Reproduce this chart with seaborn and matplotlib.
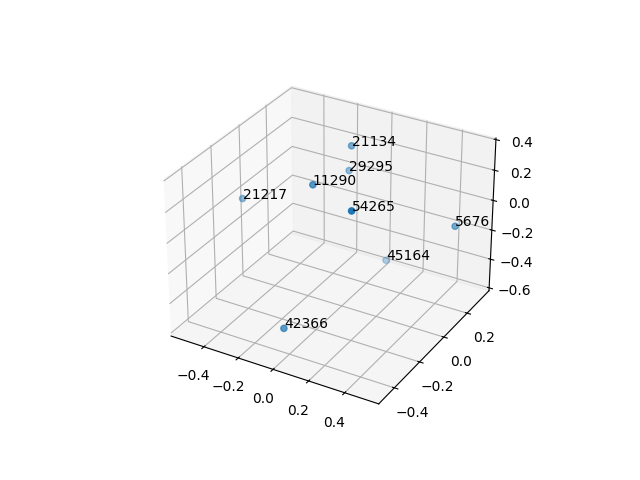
import matplotlib
matplotlib.use('Agg')
import matplotlib.pyplot as plt
import pandas as pd
import seaborn as sns

labels = ['21134', '29295', '11290', '21217', '54265', '5676', '45164', '42366']
xs = [-0.10, -0.153, -0.119, -0.578, 0.219, 0.463, 0.037, -0.082]
ys = [0.21, 0.264, -0.063, -0.009, -0.226, 0.259, 0.31, -0.335]
zs = [0.278, 0.06, 0.205, -0.071, 0.262, -0.114, -0.531, -0.53]

df = pd.DataFrame({'label': labels, 'x': xs, 'y': ys, 'z': zs})

fig = plt.figure(figsize=(6.4, 4.8), dpi=100)
ax = fig.add_subplot(projection='3d')
ax.scatter(df['x'], df['y'], df['z'], color=sns.color_palette('tab10')[0])
for _, row in df.iterrows():
    ax.text(row['x'], row['y'], row['z'], row['label'])

ax.set_xlim(-0.595, 0.585)
ax.set_ylim(-0.52, 0.395)
ax.set_zlim(-0.62, 0.41)

fig.savefig('out.png', dpi=100)
